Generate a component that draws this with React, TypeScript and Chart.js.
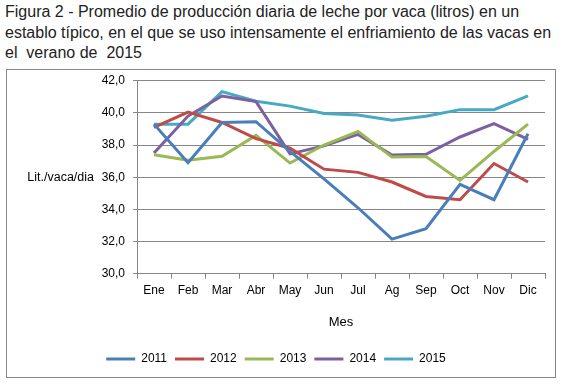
import React, { useEffect, useRef } from "react";
import { Chart, registerables } from "chart.js";

Chart.register(...registerables);

const months = ["Ene", "Feb", "Mar", "Abr", "May", "Jun", "Jul", "Ag", "Sep", "Oct", "Nov", "Dic"];
const s2011 = [39.3, 36.9, 39.4, 39.45, 37.6, 35.9, 34.1, 32.15, 32.8, 35.55, 34.6, 38.7];
const s2012 = [39.1, 40.05, 39.4, 38.4, 37.8, 36.5, 36.3, 35.7, 34.8, 34.6, 36.85, 35.7];
const s2013 = [37.4, 37.05, 37.3, 38.6, 36.88, 38.0, 38.85, 37.25, 37.28, 35.8, 37.6, 39.3];
const s2014 = [37.5, 39.8, 41.05, 40.7, 37.45, 37.95, 38.66, 37.38, 37.42, 38.5, 39.33, 38.35];
const s2015 = [39.3, 39.3, 41.32, 40.72, 40.42, 39.96, 39.86, 39.54, 39.79, 40.2, 40.2, 41.05];
const seriesNames = ["2011", "2012", "2013", "2014", "2015"];
const seriesColors = ["#4A7EBB", "#BE4B48", "#98B954", "#7D60A0", "#46AAC5"];
const titleLines = [
  "Figura 2 - Promedio de producción diaria de leche por vaca (litros) en un",
  "establo típico, en el que se uso intensamente el enfriamiento de las vacas en",
  "el  verano de  2015",
];
const yAxisTitle = "Lit./vaca/dia";
const xAxisTitle = "Mes";

const FONT = "'Liberation Sans', Arial, sans-serif";

const yTitlePlugin = {
  id: "yTitlePlugin",
  afterDraw(chart: any) {
    const { ctx, chartArea, scales } = chart;
    const y = scales.y.getPixelForValue(36);
    ctx.save();
    ctx.font = `12.5px ${FONT}`;
    ctx.fillStyle = "#000";
    ctx.textAlign = "right";
    ctx.textBaseline = "middle";
    ctx.fillText(yAxisTitle, chartArea.left - 43, y);
    ctx.restore();
  },
};

export default function App() {
  const canvasRef = useRef<HTMLCanvasElement | null>(null);

  useEffect(() => {
    document.body.style.margin = "0";
    const canvas = canvasRef.current;
    if (!canvas) return;
    const all = [s2011, s2012, s2013, s2014, s2015];
    const chart = new Chart(canvas, {
      type: "line",
      data: {
        labels: months,
        datasets: all.map((d, i) => ({
          label: seriesNames[i],
          data: d,
          borderColor: seriesColors[i],
          backgroundColor: seriesColors[i],
          borderWidth: 3,
          pointRadius: 0,
          tension: 0,
        })),
      },
      options: {
        animation: false,
        responsive: false,
        maintainAspectRatio: false,
        layout: { padding: { top: 0, right: 10, left: 0, bottom: 2 } },
        plugins: {
          tooltip: { enabled: false },
          legend: {
            position: "bottom",
            labels: {
              usePointStyle: true,
              pointStyle: "line",
              pointStyleWidth: 29,
              boxHeight: 12,
              padding: 8,
              color: "#000",
              font: { family: FONT, size: 12 },
            },
          },
        },
        scales: {
          x: {
            offset: true,
            grid: { offset: true, drawOnChartArea: false, drawTicks: true, tickLength: 5, color: "#868686" },
            border: { color: "#868686", width: 1 },
            ticks: { color: "#000", font: { family: FONT, size: 12 }, padding: 5, maxRotation: 0 },
            title: {
              display: true,
              text: xAxisTitle,
              color: "#000",
              font: { family: FONT, size: 13 },
              padding: { top: 0, bottom: 14.5 },
            },
            afterFit: (s: any) => {
              s.height = 71.3;
            },
          },
          y: {
            min: 30,
            max: 42,
            ticks: {
              stepSize: 2,
              color: "#000",
              font: { family: FONT, size: 12 },
              padding: 8,
              callback: (v: any) => Number(v).toFixed(1).replace(".", ","),
            },
            grid: { color: "#868686", tickLength: 4 },
            border: { color: "#868686", width: 1 },
            afterFit: (s: any) => {
              s.width = 130;
              s.paddingTop = 10.7;
            },
          },
        },
      },
      plugins: [yTitlePlugin],
    });
    return () => chart.destroy();
  }, []);

  return (
    <div style={{ position: "relative", width: 566, height: 385, background: "#fff", fontFamily: FONT }}>
      <div
        style={{
          position: "absolute",
          left: 5,
          top: 2,
          fontSize: 16,
          lineHeight: "20.5px",
          color: "#222",
          whiteSpace: "pre",
        }}
      >
        {titleLines.join("\n")}
      </div>
      <div
        style={{
          position: "absolute",
          left: 6,
          top: 69,
          width: 548,
          height: 307,
          border: "1px solid #878787",
        }}
      >
        <canvas ref={canvasRef} width={548} height={307} style={{ display: "block" }} />
      </div>
    </div>
  );
}
